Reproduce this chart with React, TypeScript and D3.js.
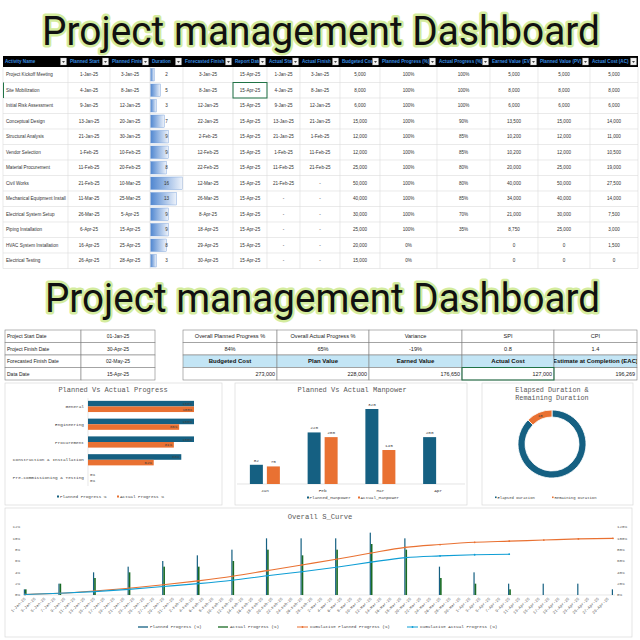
import React from "react";
import * as d3 from "d3";

// ---------------- DATA ----------------
const headerLabels = ["Activity Name", "Planned Start", "Planned Finish", "Duration", "Forecasted Finish", "Report Date", "Actual Start", "Actual Finish", "Budgeted Cost", "Planned Progress (%)", "Actual Progress (%)", "Earned Value (EV)", "Planned Value (PV)", "Actual Cost (AC)"];
const activityNames = ["Project Kickoff Meeting", "Site Mobilization", "Initial Risk Assessment", "Conceptual Design", "Structural Analysis", "Vendor Selection", "Material Procurement", "Civil Works", "Mechanical Equipment Install", "Electrical System Setup", "Piping Installation", "HVAC System Installation", "Electrical Testing"];
const plannedStart = ["1-Jan-25", "4-Jan-25", "9-Jan-25", "13-Jan-25", "21-Jan-25", "1-Feb-25", "11-Feb-25", "21-Feb-25", "11-Mar-25", "26-Mar-25", "6-Apr-25", "16-Apr-25", "26-Apr-25"];
const plannedFinish = ["3-Jan-25", "8-Jan-25", "12-Jan-25", "20-Jan-25", "30-Jan-25", "10-Feb-25", "20-Feb-25", "10-Mar-25", "25-Mar-25", "5-Apr-25", "15-Apr-25", "25-Apr-25", "28-Apr-25"];
const durations = [2, 5, 3, 7, 9, 9, 8, 16, 13, 9, 9, 8, 3];
const forecastFinish = ["3-Jan-25", "8-Jan-25", "12-Jan-25", "22-Jan-25", "2-Feb-25", "12-Feb-25", "22-Feb-25", "12-Mar-25", "26-Mar-25", "8-Apr-25", "18-Apr-25", "29-Apr-25", "30-Apr-25"];
const reportDates = ["15-Apr-25", "15-Apr-25", "15-Apr-25", "15-Apr-25", "15-Apr-25", "15-Apr-25", "15-Apr-25", "15-Apr-25", "15-Apr-25", "15-Apr-25", "15-Apr-25", "15-Apr-25", "15-Apr-25"];
const actualStart = ["1-Jan-25", "4-Jan-25", "9-Jan-25", "13-Jan-25", "21-Jan-25", "1-Feb-25", "11-Feb-25", "21-Feb-25", "-", "-", "-", "-", "-"];
const actualFinish = ["3-Jan-25", "8-Jan-25", "12-Jan-25", "21-Jan-25", "1-Feb-25", "11-Feb-25", "21-Feb-25", "-", "-", "-", "-", "-", "-"];
const budgetedCost = [5000, 8000, 6000, 15000, 12000, 12000, 25000, 50000, 40000, 30000, 25000, 20000, 15000];
const plannedProgressPct = ["100%", "100%", "100%", "100%", "100%", "100%", "100%", "100%", "100%", "100%", "100%", "0%", "0%"];
const actualProgressPct = ["100%", "100%", "100%", "90%", "85%", "85%", "80%", "80%", "85%", "70%", "35%", "", ""];
const earnedValue = [5000, 8000, 6000, 13500, 10200, 10200, 20000, 40000, 34000, 21000, 8750, 0, 0];
const plannedValue = [5000, 8000, 6000, 15000, 12000, 12000, 25000, 50000, 40000, 30000, 25000, 0, 0];
const actualCost = [5000, 8000, 6000, 14000, 11000, 10500, 19000, 27500, 14000, 7500, 3000, 1500, 0];

const infoLabels = ["Project Start Date", "Project Finish Date", "Forecasted Finish Date", "Data Date"];
const infoValues = ["01-Jan-25", "30-Apr-25", "02-May-25", "15-Apr-25"];
const kpiLabels = ["Overall Planned Progress %", "Overall Actual Progress %", "Variance", "SPI", "CPI"];
const kpiValues = ["84%", "65%", "-19%", "0.8", "1.4"];
const costLabels = ["Budgeted Cost", "Plan Value", "Earned Value", "Actual Cost", "Estimate at Completion (EAC)"];
const costValues = ["273,000", "228,000", "176,650", "127,000", "196,269"];

const progressCategories = ["General", "Engineering", "Procurement", "Construction & Installation", "Pre-commissioning & Testing"];
const progressPlanned = [100, 100, 100, 88, 0];
const progressActual = [100, 86, 81, 62, 0];

const manpowerMonths = ["Jan", "Feb", "Mar", "Apr"];
const manpowerPlanned = [82, 220, 320, 200];
const manpowerActual = [75, 200, 145, null];

const durationLabels = ["Elapsed Duration", "Remaining Duration"];
const durationValues = [105, 15];

const weekDates = ["2025-01-01", "2025-01-08", "2025-01-15", "2025-01-22", "2025-01-29", "2025-02-05", "2025-02-12", "2025-02-19", "2025-02-26", "2025-03-05", "2025-03-12", "2025-03-19", "2025-03-26", "2025-04-02", "2025-04-09", "2025-04-16", "2025-04-23", "2025-04-30"];
const weeklyPlanned = [1, 2, 4, 5, 6, 7, 8, 10, 10, 10, 11, 10, 5, 4, 2, 2, 2, 1];
const weeklyActual = [1, 2, 3, 4, 5, 5, 6, 8, 7, 8, 9, 8, 3, 2, 1, 0, 0, 0];
const cumPlanned = [1, 3, 7, 12, 18, 25, 33, 43, 53, 63, 74, 84, 89, 93, 95, 97, 99, 100];
const cumActual = [1, 3, 6, 10, 15, 20, 26, 34, 41, 49, 58, 66, 69, 71, 72];

// ---------------- STYLE ----------------
const BLUE = "#156082";
const ORANGE = "#E97132";
const GREEN = "#196B24";
const LBLUE = "#0F9ED5";
const MONO = "'Liberation Mono', 'DejaVu Sans Mono', monospace";
const SANS = "'Liberation Sans', Arial, sans-serif";
const fmt = d3.format(",");

const colEdges = [3, 68, 110, 150, 183, 233, 267, 300, 340, 380, 437, 490, 538, 590, 638];
const headTop = 56, headH = 11, rowTop = 67, rowH = 15.5;

function Title({ y, size, x0, x1 }: { y: number; size: number; x0: number; x1: number }) {
  return (
    <text x={x0} y={y} fontFamily="Roboto, 'Noto Sans', sans-serif" fontSize={size} textLength={x1 - x0} lengthAdjust="spacingAndGlyphs"
      fill="#111" stroke="#d4ec9e" strokeWidth={5} strokeLinejoin="round" style={{ paintOrder: "stroke" } as any}>
      Project management Dashboard
    </text>
  );
}

function ActivityTable() {
  const rows = activityNames.map((n, i) => [
    n, plannedStart[i], plannedFinish[i], String(durations[i]), forecastFinish[i], reportDates[i], actualStart[i], actualFinish[i],
    fmt(budgetedCost[i]), plannedProgressPct[i], actualProgressPct[i], fmt(earnedValue[i]), fmt(plannedValue[i]), fmt(actualCost[i]),
  ]);
  const durW = d3.scaleLinear().domain([0, 16]).range([0, colEdges[4] - colEdges[3] - 1]);
  const bottom = rowTop + rowH * rows.length;
  return (
    <g>
      <defs>
        <linearGradient id="durGrad" x1="0" x2="1" y1="0" y2="0">
          <stop offset="0" stopColor="#4f86d0" />
          <stop offset="1" stopColor="#eef3fb" />
        </linearGradient>
        {headerLabels.map((h, c) => (
          <clipPath id={`hc${c}`} key={c}>
            <rect x={colEdges[c]} y={headTop} width={colEdges[c + 1] - colEdges[c] - 8} height={headH} />
          </clipPath>
        ))}
      </defs>
      <rect x={colEdges[0]} y={headTop} width={colEdges[colEdges.length - 1] - colEdges[0]} height={headH} fill="#000" />
      {headerLabels.map((h, c) => (
        <g key={c}>
          <text x={colEdges[c] + 2} y={headTop + headH / 2 + 1.6} fontSize={4.6} fontWeight="bold" fill="#3a8ee0" fontFamily={SANS} clipPath={`url(#hc${c})`}>{h}</text>
          <rect x={colEdges[c + 1] - 7.5} y={headTop + 2} width={6} height={7} fill="#f2f2f2" stroke="#999" strokeWidth={0.3} />
          <path d={`M${colEdges[c + 1] - 6} ${headTop + 5} l3 0 l-1.5 2 z`} fill="#444" />
        </g>
      ))}
      {rows.map((r, i) => {
        const y = rowTop + i * rowH;
        return (
          <g key={i}>
            <line x1={colEdges[0]} x2={colEdges[colEdges.length - 1]} y1={y + rowH} y2={y + rowH} stroke="#dcdcdc" strokeWidth={0.6} />
            <rect x={colEdges[3] + 0.5} y={y + 1.5} width={durW(durations[i])} height={rowH - 3} fill="url(#durGrad)" stroke="#6a97d6" strokeWidth={0.4} />
            {r.map((v, c) => (
              <text key={c} x={c === 0 ? colEdges[0] + 3 : (colEdges[c] + colEdges[c + 1]) / 2} y={y + rowH / 2 + 1.6}
                textAnchor={c === 0 ? "start" : "middle"} fontSize={4.6} fill="#333" fontFamily={SANS}>{v}</text>
            ))}
          </g>
        );
      })}
      {colEdges.map((x, c) => (
        <line key={c} x1={x} x2={x} y1={rowTop} y2={bottom} stroke="#dcdcdc" strokeWidth={0.6} />
      ))}
      <rect x={colEdges[5]} y={rowTop + rowH} width={colEdges[6] - colEdges[5]} height={rowH} fill="none" stroke="#217346" strokeWidth={1} />
      <line x1={colEdges[0] + 0.5} x2={colEdges[0] + 0.5} y1={rowTop + rowH} y2={rowTop + 2 * rowH} stroke="#217346" strokeWidth={1} />
    </g>
  );
}

function SummaryTables() {
  const top = 330, h = 12.5;
  const lx = [5, 81, 155];
  const rx = [183, 277, 369, 462, 554, 637];
  const bc = "#808080";
  return (
    <g fontFamily={SANS}>
      {infoLabels.map((l, i) => (
        <g key={i}>
          <rect x={lx[0]} y={top + i * h} width={lx[1] - lx[0]} height={h} fill="#fff" stroke={bc} strokeWidth={0.6} />
          <rect x={lx[1]} y={top + i * h} width={lx[2] - lx[1]} height={h} fill="#fff" stroke={bc} strokeWidth={0.6} />
          <text x={lx[0] + 2} y={top + i * h + h / 2 + 1.8} fontSize={5} fill="#222">{l}</text>
          <text x={(lx[1] + lx[2]) / 2} y={top + i * h + h / 2 + 1.8} fontSize={5} fill="#222" textAnchor="middle">{infoValues[i]}</text>
        </g>
      ))}
      <defs>
        {costLabels.map((c, i) => (
          <clipPath id={`cc${i}`} key={i}><rect x={rx[i]} y={top + 2 * h} width={rx[i + 1] - rx[i]} height={h} /></clipPath>
        ))}
      </defs>
      {kpiLabels.map((l, i) => {
        const cx = (rx[i] + rx[i + 1]) / 2, w = rx[i + 1] - rx[i];
        return (
          <g key={i}>
            <rect x={rx[i]} y={top} width={w} height={h} fill="#fff" stroke={bc} strokeWidth={0.6} />
            <rect x={rx[i]} y={top + h} width={w} height={h} fill="#fff" stroke={bc} strokeWidth={0.6} />
            <rect x={rx[i]} y={top + 2 * h} width={w} height={h} fill="#c3e5f5" stroke={bc} strokeWidth={0.6} />
            <rect x={rx[i]} y={top + 3 * h} width={w} height={h} fill="#fff" stroke={bc} strokeWidth={0.6} />
            <text x={cx} y={top + h / 2 + 1.9} fontSize={5.6} textAnchor="middle" fill="#222">{l}</text>
            <text x={cx} y={top + h + h / 2 + 1.9} fontSize={5.6} textAnchor="middle" fill="#222">{kpiValues[i]}</text>
            <text x={cx} y={top + 2 * h + h / 2 + 2} fontSize={6} fontWeight="bold" textAnchor="middle" fill="#111" clipPath={`url(#cc${i})`}>{costLabels[i]}</text>
            <text x={rx[i + 1] - 2} y={top + 3 * h + h / 2 + 1.9} fontSize={5.4} textAnchor="end" fill="#222">{costValues[i]}</text>
          </g>
        );
      })}
      <rect x={rx[3]} y={top + 3 * h} width={rx[4] - rx[3]} height={h} fill="none" stroke="#217346" strokeWidth={1} />
    </g>
  );
}

function ProgressChart() {
  const x = d3.scaleLinear().domain([0, 100]).range([88, 194]);
  const y = d3.scaleBand().domain(progressCategories).range([398, 486]).paddingInner(0.05);
  const bh = 5.6;
  return (
    <g fontFamily={MONO}>
      <rect x={5} y={383} width={217} height={122} fill="#fff" stroke="#d9d9d9" strokeWidth={0.7} />
      <text x={113} y={392} fontSize={7} textAnchor="middle" fill="#595959">Planned Vs Actual Progress</text>
      <line x1={x(0)} x2={x(0)} y1={398} y2={486} stroke="#d9d9d9" strokeWidth={0.6} />
      {progressCategories.map((c, i) => {
        const cy = (y(c) as number) + y.bandwidth() / 2;
        return (
          <g key={c}>
            <text x={84} y={cy + 1.5} fontSize={4.4} textAnchor="end" fill="#404040">{c}</text>
            <rect x={x(0)} y={cy - bh} width={x(progressPlanned[i]) - x(0)} height={bh} fill={BLUE} />
            <rect x={x(0)} y={cy} width={x(progressActual[i]) - x(0)} height={bh} fill={ORANGE} />
            {progressPlanned[i] > 0 ? (
              <text x={x(progressPlanned[i]) - 2} y={cy - bh / 2 + 1.4} fontSize={4} textAnchor="end" fill="#404040">{progressPlanned[i]}%</text>
            ) : (
              <text x={x(0) + 2} y={cy - bh / 2 + 1.4} fontSize={4} fill="#404040">0%</text>
            )}
            {progressActual[i] > 0 ? (
              <text x={x(progressActual[i]) - 2} y={cy + bh / 2 + 1.4} fontSize={4} textAnchor="end" fill="#404040">{progressActual[i]}%</text>
            ) : (
              <text x={x(0) + 2} y={cy + bh / 2 + 1.4} fontSize={4} fill="#404040">0%</text>
            )}
          </g>
        );
      })}
      <rect x={57} y={495.5} width={2} height={2} fill={BLUE} />
      <text x={60} y={498} fontSize={4.3} fill="#404040">Planned Progress %</text>
      <rect x={117} y={495.5} width={2} height={2} fill={ORANGE} />
      <text x={120} y={498} fontSize={4.3} fill="#404040">Actual Progress %</text>
    </g>
  );
}

function ManpowerChart() {
  const x = d3.scaleBand().domain(manpowerMonths).range([236, 467]);
  const y = d3.scaleLinear().domain([0, 320]).range([484, 409]);
  const bw = 13;
  return (
    <g fontFamily={MONO}>
      <rect x={235} y={383} width={232} height={122} fill="#fff" stroke="#d9d9d9" strokeWidth={0.7} />
      <text x={352} y={392} fontSize={7} textAnchor="middle" fill="#595959">Planned Vs Actual Manpower</text>
      <line x1={237} x2={465} y1={y(0)} y2={y(0)} stroke="#d9d9d9" strokeWidth={0.7} />
      {manpowerMonths.map((m, i) => {
        const cx = (x(m) as number) + x.bandwidth() / 2;
        const a = manpowerActual[i];
        return (
          <g key={m}>
            <rect x={cx - bw - 2} y={y(manpowerPlanned[i])} width={bw} height={y(0) - y(manpowerPlanned[i])} fill={BLUE} />
            <text x={cx - bw / 2 - 2} y={y(manpowerPlanned[i]) - 3} fontSize={4.4} textAnchor="middle" fill="#404040">{manpowerPlanned[i]}</text>
            {a != null && (
              <g>
                <rect x={cx + 2} y={y(a)} width={bw} height={y(0) - y(a)} fill={ORANGE} />
                <text x={cx + 2 + bw / 2} y={y(a) - 3} fontSize={4.4} textAnchor="middle" fill="#404040">{a}</text>
              </g>
            )}
            <text x={cx} y={492} fontSize={4.4} textAnchor="middle" fill="#404040">{m}</text>
          </g>
        );
      })}
      <rect x={307} y={496.5} width={2} height={2} fill={BLUE} />
      <text x={309.5} y={499} fontSize={4.3} fill="#404040">Planned_Manpower</text>
      <rect x={358} y={496.5} width={2} height={2} fill={ORANGE} />
      <text x={360.5} y={499} fontSize={4.3} fill="#404040">Actual_Manpower</text>
    </g>
  );
}

function DurationDonut() {
  const pie = d3.pie<number>().sort(null).value((d) => d);
  const arcs = pie(durationValues);
  const arc = d3.arc<d3.PieArcDatum<number>>().innerRadius(27).outerRadius(34);
  const cx = 552, cy = 444;
  return (
    <g fontFamily={MONO}>
      <rect x={482} y={383} width={151} height={122} fill="#fff" stroke="#d9d9d9" strokeWidth={0.7} />
      <text x={552} y={392} fontSize={6.8} textAnchor="middle" fill="#595959">Elapsed Duration &amp;</text>
      <text x={552} y={400} fontSize={6.8} textAnchor="middle" fill="#595959">Remaining Duration</text>
      <g transform={`translate(${cx},${cy})`}>
        {arcs.map((a, i) => (
          <path key={i} d={arc(a) as string} fill={i === 0 ? BLUE : ORANGE} stroke="#fff" strokeWidth={0.8} />
        ))}
        {arcs.map((a, i) => i === 1 ? (
          <text key={i} x={arc.centroid(a)[0]} y={arc.centroid(a)[1] + 1.4} fontSize={4} textAnchor="middle" fill="#404040">{durationValues[i]}</text>
        ) : null)}
      </g>
      <rect x={495} y={496.5} width={1.6} height={1.6} fill={BLUE} />
      <text x={497.5} y={498.5} fontSize={3.9} fill="#404040">{durationLabels[0]}</text>
      <rect x={552} y={496.5} width={1.6} height={1.6} fill={ORANGE} />
      <text x={554.5} y={498.5} fontSize={3.9} fill="#404040">{durationLabels[1]}</text>
    </g>
  );
}

function SCurve() {
  const parse = d3.timeParse("%Y-%m-%d");
  const dates = weekDates.map((d) => parse(d) as Date);
  const x = d3.scaleTime().domain([dates[0], dates[dates.length - 1]]).range([25, 613]);
  const yL = d3.scaleLinear().domain([0, 12]).range([595, 527]);
  const yR = d3.scaleLinear().domain([0, 120]).range([595, 527]);
  const tickDates = d3.timeDay.range(dates[0], d3.timeDay.offset(dates[dates.length - 1], 1)).filter((d, i) => i % 2 === 0);
  const tf = d3.timeFormat("%-d-%b-%y");
  const line = d3.line<number>().x((d, i) => x(dates[i])).y((d) => yR(d)).curve(d3.curveMonotoneX);
  return (
    <g fontFamily={MONO}>
      <rect x={5} y={508} width={627} height={129} fill="#fff" stroke="#d9d9d9" strokeWidth={0.7} />
      <text x={320} y={519} fontSize={7.2} textAnchor="middle" fill="#595959">Overall S_Curve</text>
      {yL.ticks(6).map((t) => (
        <text key={t} x={20} y={yL(t) + 1.4} fontSize={4.2} textAnchor="end" fill="#595959">{t}%</text>
      ))}
      {yR.ticks(6).map((t) => (
        <text key={t} x={617} y={yR(t) + 1.4} fontSize={4.2} fill="#595959">{t}%</text>
      ))}
      <line x1={23} x2={615} y1={yL(0)} y2={yL(0)} stroke="#d9d9d9" strokeWidth={0.6} />
      {tickDates.map((d, i) => (
        <text key={i} transform={`translate(${x(d) + 1},${599}) rotate(-45)`} fontSize={4} textAnchor="end" fill="#595959">{tf(d)}</text>
      ))}
      {dates.map((d, i) => (
        <g key={i}>
          {weeklyPlanned[i] > 0 && <rect x={x(d) - 1.2} y={yL(weeklyPlanned[i])} width={1.2} height={yL(0) - yL(weeklyPlanned[i])} fill={BLUE} />}
          {weeklyActual[i] > 0 && <rect x={x(d)} y={yL(weeklyActual[i])} width={1.6} height={yL(0) - yL(weeklyActual[i])} fill={GREEN} />}
        </g>
      ))}
      <path d={line(cumPlanned) as string} fill="none" stroke={ORANGE} strokeWidth={1.1} />
      <path d={line(cumActual) as string} fill="none" stroke={LBLUE} strokeWidth={1.1} />
      {cumPlanned.map((v, i) => <circle key={i} cx={x(dates[i])} cy={yR(v)} r={0.9} fill={ORANGE} />)}
      {cumActual.map((v, i) => <circle key={i} cx={x(dates[i])} cy={yR(v)} r={0.9} fill={LBLUE} />)}
      <line x1={138} x2={148} y1={627} y2={627} stroke={BLUE} strokeWidth={1.3} />
      <text x={150} y={628.4} fontSize={4.3} fill="#404040">Planned Progress (%)</text>
      <line x1={218} x2={228} y1={627} y2={627} stroke={GREEN} strokeWidth={1.3} />
      <text x={230} y={628.4} fontSize={4.3} fill="#404040">Actual Progress (%)</text>
      <line x1={297} x2={308} y1={627} y2={627} stroke={ORANGE} strokeWidth={1} />
      <circle cx={302.5} cy={627} r={0.9} fill={ORANGE} />
      <text x={310} y={628.4} fontSize={4.3} fill="#404040">Cumulative Planned Progress (%)</text>
      <line x1={407} x2={418} y1={627} y2={627} stroke={LBLUE} strokeWidth={1} />
      <circle cx={412.5} cy={627} r={0.9} fill={LBLUE} />
      <text x={420} y={628.4} fontSize={4.3} fill="#404040">Cumulative Actual Progress (%)</text>
    </g>
  );
}

export default function App() {
  return (
    <svg width={640} height={640} viewBox="0 0 640 640" style={{ position: "absolute", left: 0, top: 0, background: "#fff" }}>
      <rect x={0} y={0} width={640} height={640} fill="#fff" />
      <Title y={45} size={40} x0={42} x1={600} />
      <ActivityTable />
      <Title y={312} size={41} x0={45} x1={600} />
      <SummaryTables />
      <ProgressChart />
      <ManpowerChart />
      <DurationDonut />
      <SCurve />
    </svg>
  );
}
